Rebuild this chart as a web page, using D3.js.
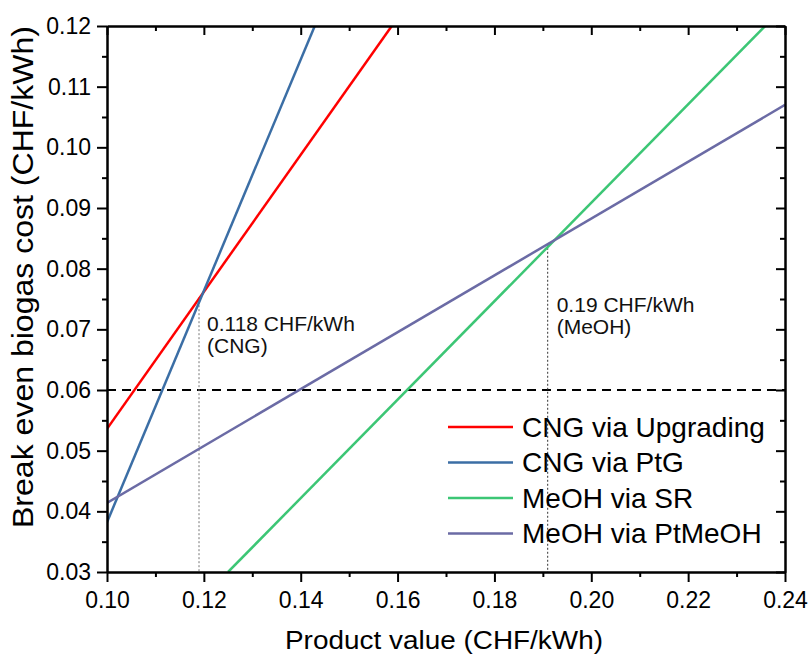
<!DOCTYPE html>
<html>
<head>
  <title>Break even biogas cost</title>
  <script src="https://d3js.org/d3.v7.min.js"></script>
  <style>
    body { margin: 0; background: #fff; font-family: "Liberation Sans", Arial, sans-serif; }
    .axis path, .axis line { stroke: #000; stroke-width: 2; }
    .axis text { font-size: 23px; font-family: "Liberation Sans", Arial, sans-serif; fill: #000; }
    .series { fill: none; stroke-width: 2.5; }
    .legend text { font-size: 28px; }
    .note { font-size: 21px; fill: #111; }
  </style>
</head>
<body>
  <div id="chart"></div>
  <script>
    const margin = {top: 26, right: 23, bottom: 83, left: 107};
    const width = 808 - margin.left - margin.right;
    const height = 655 - margin.top - margin.bottom;

    // axis ranges and ticks
    const xDomain = [0.10, 0.24];
    const yDomain = [0.03, 0.12];
    const xMajor = [0.10, 0.12, 0.14, 0.16, 0.18, 0.20, 0.22, 0.24];
    const xMinor = [0.11, 0.13, 0.15, 0.17, 0.19, 0.21, 0.23];
    const yMajor = [0.03, 0.04, 0.05, 0.06, 0.07, 0.08, 0.09, 0.10, 0.11, 0.12];
    const yMinor = [0.035, 0.045, 0.055, 0.065, 0.075, 0.085, 0.095, 0.105, 0.115];

    // series (straight lines, start and end)
    const seriesNames = ["CNG via Upgrading", "CNG via PtG", "MeOH via SR", "MeOH via PtMeOH"];
    const seriesColors = ["#ff0000", "#3b6ea5", "#3cc675", "#6b6ba5"];
    const upgradingX = [0.10, 0.1588];
    const upgradingY = [0.0536, 0.12];
    const ptgX = [0.10, 0.1429];
    const ptgY = [0.0382, 0.12];
    const srX = [0.125, 0.2359];
    const srY = [0.03, 0.12];
    const ptmeohX = [0.10, 0.24];
    const ptmeohY = [0.0414, 0.107];

    // break even markers
    const breakX = [0.119, 0.191];
    const breakY = [0.0753, 0.0841];
    const breakLabels = [["0.118 CHF/kWh", "(CNG)"], ["0.19 CHF/kWh", "(MeOH)"]];
    const threshold = 0.06;

    const svg = d3.select("#chart")
      .append("svg")
        .attr("width", 808)
        .attr("height", 655);

    const g = svg.append("g")
        .attr("transform", `translate(${margin.left},${margin.top})`);

    const x = d3.scaleLinear().domain(xDomain).range([0, width]);
    const y = d3.scaleLinear().domain(yDomain).range([height, 0]);

    g.append("clipPath").attr("id", "clip")
      .append("rect").attr("width", width).attr("height", height);

    const plot = g.append("g").attr("clip-path", "url(#clip)");

    // threshold line
    plot.append("line")
      .attr("x1", 0).attr("x2", width)
      .attr("y1", y(threshold)).attr("y2", y(threshold))
      .attr("stroke", "#000").attr("stroke-width", 2)
      .attr("stroke-dasharray", "9,6");

    // dotted verticals
    plot.selectAll(".drop")
      .data(breakX)
      .join("line")
        .attr("class", "drop")
        .attr("x1", d => x(d)).attr("x2", d => x(d))
        .attr("y1", (d, i) => y(breakY[i])).attr("y2", height)
        .attr("stroke", (d, i) => i === 0 ? "#777" : "#333")
        .attr("stroke-width", 1)
        .attr("stroke-dasharray", "2,2");

    const seriesData = [
      [upgradingX, upgradingY],
      [ptgX, ptgY],
      [srX, srY],
      [ptmeohX, ptmeohY]
    ].map(([xs, ys]) => xs.map((v, i) => [v, ys[i]]));

    const line = d3.line().x(d => x(d[0])).y(d => y(d[1]));

    plot.selectAll(".series")
      .data(seriesData)
      .join("path")
        .attr("class", "series")
        .attr("stroke", (d, i) => seriesColors[i])
        .attr("d", line);

    // annotations
    breakLabels.forEach((lines, i) => {
      const tx = x(breakX[i]) + (i === 0 ? 8 : 9);
      const t = g.append("text")
        .attr("class", "note")
        .attr("x", tx)
        .attr("y", i === 0 ? 331 - margin.top : 312 - margin.top);
      lines.forEach((s, j) => {
        t.append("tspan")
          .attr("x", tx)
          .attr("dy", j === 0 ? 0 : 22)
          .text(s);
      });
    });

    // axes
    const fmt = d3.format(".2f");
    g.append("g").attr("class", "axis")
      .attr("transform", `translate(0,${height})`)
      .call(d3.axisBottom(x).tickValues(xMajor).tickFormat(fmt).tickSize(10).tickSizeOuter(0).tickPadding(10));
    g.append("g").attr("class", "axis")
      .attr("transform", `translate(0,${height})`)
      .call(d3.axisBottom(x).tickValues(xMinor).tickFormat("").tickSize(5).tickSizeOuter(0));
    g.append("g").attr("class", "axis")
      .call(d3.axisLeft(y).tickValues(yMajor).tickFormat(fmt).tickSize(10).tickSizeOuter(0).tickPadding(6));
    g.append("g").attr("class", "axis")
      .call(d3.axisLeft(y).tickValues(yMinor).tickFormat("").tickSize(5).tickSizeOuter(0));
    g.append("g").attr("class", "axis")
      .call(d3.axisTop(x).tickValues(xMajor).tickFormat("").tickSize(-9).tickSizeOuter(0));
    g.append("g").attr("class", "axis")
      .call(d3.axisTop(x).tickValues(xMinor).tickFormat("").tickSize(-5).tickSizeOuter(0));
    g.append("g").attr("class", "axis")
      .attr("transform", `translate(${width},0)`)
      .call(d3.axisRight(y).tickValues(yMajor).tickFormat("").tickSize(-9).tickSizeOuter(0));
    g.append("g").attr("class", "axis")
      .attr("transform", `translate(${width},0)`)
      .call(d3.axisRight(y).tickValues(yMinor).tickFormat("").tickSize(-5).tickSizeOuter(0));

    // axis titles
    svg.append("text")
      .attr("x", 444).attr("y", 649)
      .attr("text-anchor", "middle")
      .attr("font-size", 26)
      .attr("textLength", 318).attr("lengthAdjust", "spacingAndGlyphs")
      .text("Product value (CHF/kWh)");

    svg.append("text")
      .attr("transform", "translate(33,277) rotate(-90)")
      .attr("text-anchor", "middle")
      .attr("font-size", 29)
      .attr("textLength", 502).attr("lengthAdjust", "spacingAndGlyphs")
      .text("Break even biogas cost (CHF/kWh)");

    // legend
    const legend = svg.append("g").attr("class", "legend");
    seriesNames.forEach((name, i) => {
      const ly = 427 + i * 35.5;
      legend.append("line")
        .attr("x1", 448).attr("x2", 513)
        .attr("y1", ly).attr("y2", ly)
        .attr("stroke", seriesColors[i]).attr("stroke-width", 2.5);
      legend.append("text")
        .attr("x", 522).attr("y", ly)
        .attr("dy", "0.35em")
        .text(name);
    });
  </script>
</body>
</html>
